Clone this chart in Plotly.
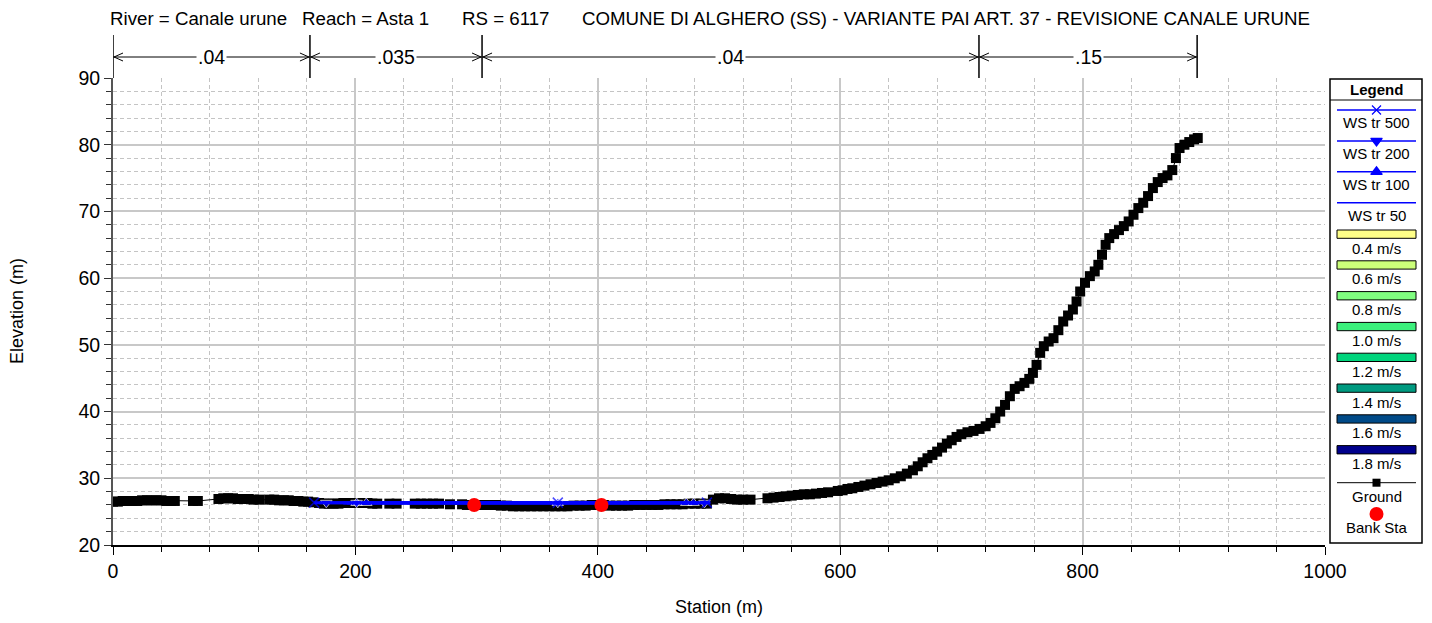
import plotly.graph_objects as go

# ---------------- data ----------------
station = [0, 4, 8, 12, 16, 20, 24, 28, 32, 36, 40, 44, 48, 51, 66, 70, 87, 91, 95, 99, 103, 107, 112, 116,
           121, 129, 133, 137, 141, 145, 149, 153, 157, 161, 165, 170, 174, 178, 182, 186, 190, 194, 198,
           202, 206, 210, 214, 218, 228, 234, 249, 254, 259, 264, 269, 278, 288, 292, 296, 300, 304, 308,
           312, 316, 320, 325, 330, 335, 340, 345, 350, 355, 360, 365, 370, 375, 380, 385, 390, 395, 400,
           405, 410, 415, 420, 425, 430, 435, 440, 445, 450, 455, 460, 465, 470, 475, 480, 485, 490, 495,
           500, 505, 510, 515, 520, 526, 540, 545, 550, 555, 560, 565, 570, 575, 580, 585, 590, 598, 602,
           606, 610, 615, 620, 625, 630, 635, 640, 645, 650, 655, 660, 664, 668, 672, 676, 680, 684, 688,
           692, 696, 700, 705, 710, 715, 720, 724, 728, 732, 736, 740, 744, 748, 752, 756, 759, 762, 765,
           768, 772, 776, 780, 784, 788, 792, 795, 798, 802, 806, 810, 813, 816, 819, 822, 826, 830, 834,
           838, 842, 846, 850, 854, 858, 862, 866, 870, 874, 877, 880, 884, 888, 892, 895]
elevation = [26.5, 26.5, 26.6, 26.6, 26.6, 26.6, 26.7, 26.7, 26.7, 26.7, 26.7, 26.6, 26.6, 26.6, 26.6, 26.6,
             26.9, 27.0, 27.0, 27.0, 26.9, 26.9, 26.9, 26.8, 26.8, 26.8, 26.8, 26.7, 26.7, 26.7, 26.6, 26.6,
             26.5, 26.5, 26.4, 26.3, 26.2, 26.2, 26.2, 26.2, 26.3, 26.3, 26.3, 26.3, 26.3, 26.3, 26.2, 26.2,
             26.2, 26.2, 26.2, 26.2, 26.2, 26.2, 26.2, 26.1, 26.1, 26.0, 26.0, 26.0, 26.0, 26.0, 26.0, 26.0,
             25.9, 25.9, 25.8, 25.8, 25.8, 25.8, 25.8, 25.8, 25.8, 25.8, 25.8, 25.8, 25.9, 25.9, 25.9, 26.0,
             26.0, 26.0, 25.9, 25.9, 25.9, 25.9, 26.0, 26.0, 26.0, 26.0, 26.0, 26.1, 26.1, 26.1, 26.1, 26.2,
             26.2, 26.2, 26.2, 26.8, 27.0, 27.0, 26.9, 26.8, 26.8, 26.8, 27.0, 27.1, 27.2, 27.3, 27.4, 27.5,
             27.6, 27.6, 27.7, 27.8, 27.9, 28.1, 28.2, 28.4, 28.5, 28.7, 28.9, 29.1, 29.3, 29.5, 29.7, 30.0,
             30.3, 30.7, 31.2, 31.8, 32.4, 33.0, 33.5, 34.0, 34.6, 35.2, 35.7, 36.2, 36.6, 36.9, 37.1, 37.4,
             37.8, 38.3, 39.0, 40.0, 41.0, 42.3, 43.4, 43.8, 44.3, 44.9, 45.8, 47.0, 48.8, 49.8, 50.5, 51.0,
             52.2, 53.5, 54.4, 55.3, 56.5, 58.0, 59.3, 60.3, 61.0, 62.0, 63.5, 65.0, 66.0, 66.6, 67.2, 67.8,
             68.5, 69.5, 70.5, 71.3, 72.3, 73.5, 74.4, 75.0, 75.4, 76.2, 78.0, 79.5, 80.0, 80.4, 80.8, 81.0]

bank_station = [298, 403]
bank_elev = [26.0, 26.0]

ws500_x = [166, 367, 490, 493]
ws500_y = [26.35, 26.35, 26.35, 26.35]
ws200_x = [170, 176, 201, 367, 488, 491]
ws200_y = [26.32, 26.32, 26.32, 26.32, 26.32, 26.32]
ws100_x = [190, 201, 209, 367, 473, 479, 484]
ws100_y = [26.3, 26.3, 26.3, 26.3, 26.3, 26.3, 26.3]
ws50_x = [193, 476]
ws50_y = [26.28, 26.28]
ws500_marks = [True, True, True, False]
ws200_marks = [False, True, True, True, True, False]
ws100_marks = [False, True, True, True, True, True, False]

n_bounds = [0, 162.5, 304.5, 714.5, 894.5]
n_values = [".04", ".035", ".04", ".15"]

title_parts = ["River = Canale urune", "Reach = Asta 1", "RS = 6117",
               "COMUNE DI ALGHERO (SS) - VARIANTE PAI ART. 37 - REVISIONE CANALE URUNE"]
title_px = [108, 300, 460, 580]

vel_labels = ["0.4 m/s", "0.6 m/s", "0.8 m/s", "1.0 m/s", "1.2 m/s", "1.4 m/s", "1.6 m/s", "1.8 m/s"]
vel_colors = ["#ffff88", "#ccff7a", "#80ff80", "#3cf07c", "#00d47c", "#009a80", "#004a88", "#00008c"]

# ---------------- layout geometry (screen pixels; page body has 8px margin) ----------------
OFF = 8
W, H = 1432 - OFF, 623 - OFF
PL, PR, PT, PB = 113, 1325, 78, 545          # plot area in screen pixels
ML = PL - OFF
MT = PT - OFF
MB = H - (PB - OFF)
MR = 10
PW = W - ML - MR
PH = H - MT - MB
def px_x(px):
    return (px - OFF - ML) / PW
def px_y(py):
    return (H - MB - (py - OFF)) / PH

FONT = "Liberation Sans, Arial, sans-serif"
BLUE = "#0000ff"

fig = go.Figure()

def mark_sizes(flags, s):
    return [s if f else 0 for f in flags]

# Ground
fig.add_trace(go.Scatter(x=station, y=elevation, mode="lines+markers",
                         line=dict(color="black", width=1),
                         marker=dict(symbol="square", size=10, color="black"),
                         showlegend=False, hoverinfo="skip"))
# Water surfaces
fig.add_trace(go.Scatter(x=ws50_x, y=ws50_y, mode="lines", line=dict(color=BLUE, width=3),
                         showlegend=False))
fig.add_trace(go.Scatter(x=ws100_x, y=ws100_y, mode="lines+markers", line=dict(color=BLUE, width=3),
                         marker=dict(symbol="triangle-up", size=mark_sizes(ws100_marks, 10), color=BLUE),
                         showlegend=False))
fig.add_trace(go.Scatter(x=ws200_x, y=ws200_y, mode="lines+markers", line=dict(color=BLUE, width=3),
                         marker=dict(symbol="triangle-down", size=mark_sizes(ws200_marks, 10), color=BLUE),
                         showlegend=False))
fig.add_trace(go.Scatter(x=ws500_x, y=ws500_y, mode="lines+markers", line=dict(color=BLUE, width=3),
                         marker=dict(symbol="x-thin", size=mark_sizes(ws500_marks, 10),
                                     line=dict(color=BLUE, width=1.5)),
                         showlegend=False))
# Bank stations
fig.add_trace(go.Scatter(x=bank_station, y=bank_elev, mode="markers",
                         marker=dict(symbol="circle", size=14, color="#ff0000"),
                         showlegend=False))

shapes = []
annotations = []

# ---------------- Manning n header ----------------
y_top_v = px_y(35)
y_arrow = px_y(57)
for b in n_bounds:
    shapes.append(dict(type="line", xref="x", yref="paper", x0=b, x1=b, y0=1, y1=y_top_v,
                       line=dict(color="black", width=1.5)))
shapes.append(dict(type="line", xref="x", yref="paper", x0=n_bounds[0], x1=n_bounds[-1],
                   y0=y_arrow, y1=y_arrow, line=dict(color="black", width=1)))
for i, b in enumerate(n_bounds):
    if i < len(n_bounds) - 1:
        shapes.append(dict(type="path", xref="x", yref="paper", xsizemode="pixel", ysizemode="pixel",
                           xanchor=b, yanchor=y_arrow, path="M 10,4 L 1,0 L 10,-4",
                           line=dict(color="black", width=1)))
    if i > 0:
        shapes.append(dict(type="path", xref="x", yref="paper", xsizemode="pixel", ysizemode="pixel",
                           xanchor=b, yanchor=y_arrow, path="M -10,4 L -1,0 L -10,-4",
                           line=dict(color="black", width=1)))
for i, v in enumerate(n_values):
    annotations.append(dict(text=v, xref="x", yref="paper", x=(n_bounds[i] + n_bounds[i + 1]) / 2,
                            y=y_arrow, showarrow=False, bgcolor="white", borderpad=1,
                            font=dict(family=FONT, size=19.5, color="black"),
                            xanchor="center", yanchor="middle"))

# ---------------- title ----------------
for t, p in zip(title_parts, title_px):
    annotations.append(dict(text=t, xref="paper", yref="paper", x=px_x(p), y=px_y(19),
                            showarrow=False, xanchor="left", yanchor="middle",
                            font=dict(family=FONT, size=18.7, color="black")))

# axis titles
annotations.append(dict(text="Station (m)", xref="paper", yref="paper", x=px_x(719), y=px_y(607),
                        showarrow=False, xanchor="center", yanchor="middle",
                        font=dict(family=FONT, size=18, color="black")))
annotations.append(dict(text="Elevation (m)", xref="paper", yref="paper", x=px_x(17), y=px_y(311),
                        showarrow=False, xanchor="center", yanchor="middle", textangle=-90,
                        font=dict(family=FONT, size=18, color="black")))

# ---------------- custom legend (x2/y2 in pixel units) ----------------
LX0, LX1, LY0, LY1 = 1330, 1422, 79, 543
shapes.append(dict(type="rect", xref="paper", yref="paper", x0=px_x(LX0), x1=px_x(LX1),
                   y0=px_y(LY1), y1=px_y(LY0), line=dict(color="black", width=1.5),
                   fillcolor="rgba(0,0,0,0)"))
shapes.append(dict(type="line", xref="x2", yref="y2", x0=0, x1=92, y0=21, y1=21,
                   line=dict(color="black", width=1)))
annotations.append(dict(text="<b>Legend</b>", xref="x2", yref="y2", x=46, y=10.5, showarrow=False,
                        font=dict(family=FONT, size=15, color="black")))

LFONT = dict(family=FONT, size=15, color="black")
ws_legend = [("WS tr 500", "x-thin"), ("WS tr 200", "triangle-down"), ("WS tr 100", "triangle-up"),
             ("WS tr 50", None)]
for i, (lab, sym) in enumerate(ws_legend):
    ly = 31 + i * 30.9
    shapes.append(dict(type="line", xref="x2", yref="y2", x0=7, x1=86, y0=ly, y1=ly,
                       line=dict(color=BLUE, width=1.5)))
    if sym:
        fig.add_trace(go.Scatter(x=[46.5], y=[ly], xaxis="x2", yaxis="y2", mode="markers",
                                 marker=dict(symbol=sym, size=10 if sym != "x-thin" else 9, color=BLUE,
                                             line=dict(color=BLUE, width=1.2)),
                                 showlegend=False, hoverinfo="skip"))
    annotations.append(dict(text=lab, xref="x2", yref="y2", x=46.5, y=ly + 12.8, showarrow=False,
                            font=LFONT))

for i, (lab, col) in enumerate(zip(vel_labels, vel_colors)):
    ry = 151 + i * 30.8
    shapes.append(dict(type="rect", xref="x2", yref="y2", x0=7, x1=86, y0=ry, y1=ry + 8.3,
                       fillcolor=col, line=dict(color="black", width=1)))
    annotations.append(dict(text=lab, xref="x2", yref="y2", x=46.5, y=ry + 18, showarrow=False,
                            font=LFONT))

shapes.append(dict(type="line", xref="x2", yref="y2", x0=7, x1=86, y0=403.7, y1=403.7,
                   line=dict(color="black", width=1)))
fig.add_trace(go.Scatter(x=[46.5], y=[403.7], xaxis="x2", yaxis="y2", mode="markers",
                         marker=dict(symbol="square", size=8, color="black"),
                         showlegend=False, hoverinfo="skip"))
annotations.append(dict(text="Ground", xref="x2", yref="y2", x=46.5, y=417, showarrow=False, font=LFONT))
fig.add_trace(go.Scatter(x=[46.5], y=[435], xaxis="x2", yaxis="y2", mode="markers",
                         marker=dict(symbol="circle", size=14, color="#ff0000"),
                         showlegend=False, hoverinfo="skip"))
annotations.append(dict(text="Bank Sta", xref="x2", yref="y2", x=46.5, y=448, showarrow=False,
                        font=LFONT))

fig.update_layout(
    width=W, height=H,
    margin=dict(l=ML, r=MR, t=MT, b=MB, autoexpand=False),
    paper_bgcolor="white", plot_bgcolor="white",
    font=dict(family=FONT, color="black"),
    showlegend=False,
    shapes=shapes, annotations=annotations,
    xaxis=dict(domain=[0, (PR - PL) / PW], range=[0, 1000], dtick=200, tick0=0,
               showline=True, linecolor="black", linewidth=1.5,
               ticks="outside", ticklen=8, tickcolor="black", tickwidth=1,
               showgrid=True, gridcolor="#c8c8c8", gridwidth=1.5, zeroline=False,
               tickfont=dict(family=FONT, size=19.5, color="black"),
               minor=dict(dtick=40, showgrid=True, gridcolor="#c4c4c4", griddash="4px,3px",
                          gridwidth=1, ticks="outside", ticklen=5, tickcolor="black"),
               fixedrange=True),
    yaxis=dict(range=[20, 90], dtick=10, tick0=20,
               showline=True, linecolor="#555555", linewidth=2,
               ticks="outside", ticklen=7, tickcolor="#333333", tickwidth=1,
               showgrid=True, gridcolor="#c8c8c8", gridwidth=1.5, zeroline=False,
               tickfont=dict(family=FONT, size=19.5, color="black"),
               minor=dict(dtick=2, showgrid=True, gridcolor="#c4c4c4", griddash="4px,3px",
                          gridwidth=1, ticks="outside", ticklen=5, tickcolor="#333333"),
               fixedrange=True),
    xaxis2=dict(domain=[px_x(LX0), px_x(LX1)], range=[0, 92], visible=False, anchor="y2",
                fixedrange=True),
    yaxis2=dict(domain=[px_y(LY1), px_y(LY0)], range=[464, 0], visible=False, anchor="x2",
                fixedrange=True),
)

fig.write_html("out.html")
